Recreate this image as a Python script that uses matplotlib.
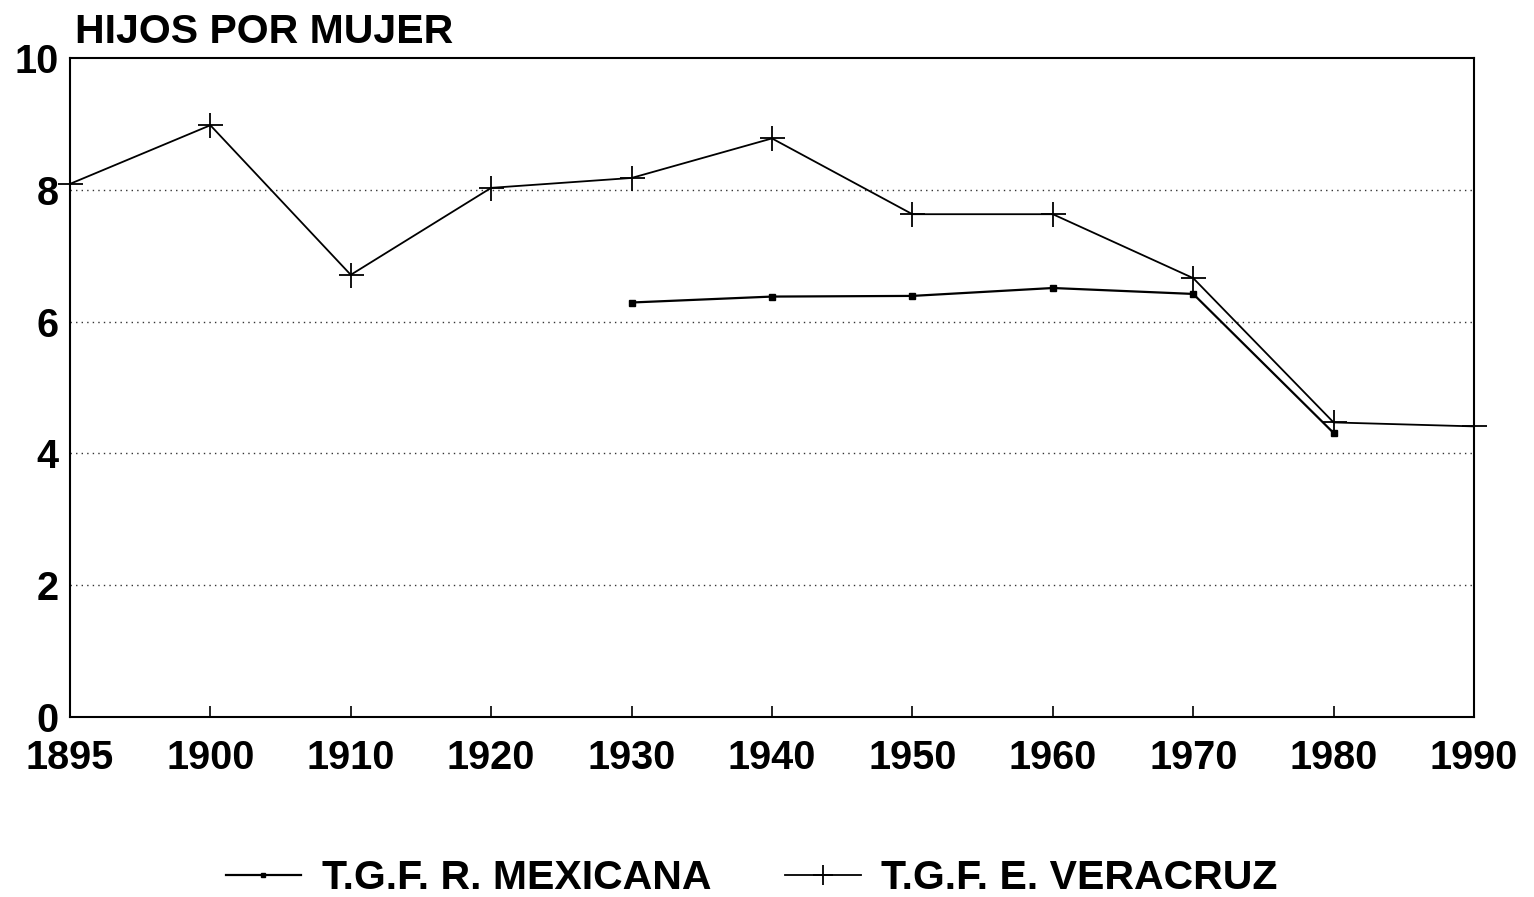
import matplotlib
matplotlib.use("Agg")
import matplotlib.pyplot as plt

categories = ["1895", "1900", "1910", "1920", "1930", "1940", "1950", "1960", "1970", "1980", "1990"]
veracruz = [8.09, 8.98, 6.71, 8.03, 8.18, 8.78, 7.63, 7.63, 6.66, 4.47, 4.41]
mexicana_cats = ["1930", "1940", "1950", "1960", "1970", "1980"]
mexicana = [6.29, 6.38, 6.39, 6.51, 6.42, 4.31]

plt.rcParams['font.family'] = ['Liberation Sans', 'DejaVu Sans']
plt.rcParams['font.weight'] = 'bold'

fig = plt.figure(figsize=(15.34, 8.97), dpi=100)
ax = fig.add_axes([0.0456, 0.2007, 0.9153, 0.7346])

x = list(range(len(categories)))
xm = [categories.index(c) for c in mexicana_cats]

ax.plot(xm, mexicana, color='black', lw=1.6, marker='s', markersize=4,
        label='T.G.F. R. MEXICANA', clip_on=False)
ax.plot(x, veracruz, color='black', lw=1.3, marker='+', markersize=18, markeredgewidth=1.3,
        label='T.G.F. E. VERACRUZ', clip_on=False)

ax.set_xlim(0, len(categories) - 1)
ax.set_ylim(0, 10)
ax.set_xticks(x)
ax.set_xticklabels(categories)
ax.set_yticks([0, 2, 4, 6, 8, 10])
ax.tick_params(axis='both', direction='in', labelsize=28.5, length=8, width=1.2)
ax.tick_params(axis='x', pad=16)
ax.tick_params(axis='y', length=0, pad=8)
for lab in ax.get_xticklabels() + ax.get_yticklabels():
    lab.set_fontweight('bold')
for y in [2, 4, 6, 8]:
    ax.axhline(y, color='#333333', lw=1.0, linestyle=(0, (1, 3)), zorder=0)
for s in ax.spines.values():
    s.set_linewidth(1.5)

fig.text(0.049, 0.943, 'HIJOS POR MUJER', fontsize=29.5, fontweight='bold', ha='left', va='bottom')

leg = fig.legend(loc='center', bbox_to_anchor=(0.49, 0.021), ncol=2, frameon=False,
                 handlelength=1.85, handletextpad=0.5, columnspacing=1.8,
                 prop={'weight': 'bold', 'size': 29.5})
for h in leg.legend_handles:
    h.set_markersize(14 if h.get_marker() == '+' else 3)

fig.savefig('out.png', dpi=100)
